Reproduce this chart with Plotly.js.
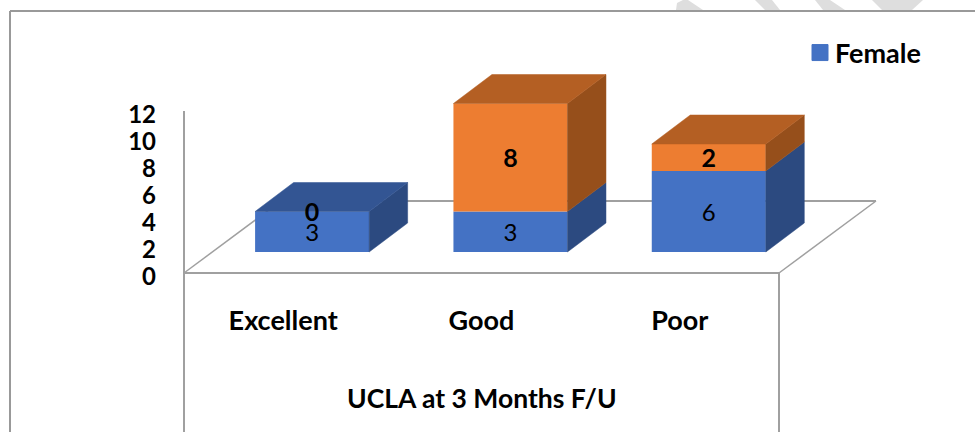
<!DOCTYPE html>
<html>
<head>
<meta charset="utf-8">
<script src="https://cdn.plot.ly/plotly-3.0.1.min.js"></script>
<style>html,body{margin:0;padding:0;background:#fff}#c{width:975px;height:432px}</style>
</head>
<body>
<div id="c"></div>
<script>
var categories = ['Excellent', 'Good', 'Poor'];
var female = [3, 3, 6];
var male = [0, 8, 2];
var yTicks = [0, 2, 4, 6, 8, 10, 12];

var W = 975, H = 432;
var L = 184, R = 905, T = 57, B = 273;   // plot box in pixels
var catW = 595 / 3, unit = (B - T) / 16;

// oblique projection, in data units
var barOff = 0.146, barW = 0.575, floorLift = 21 / unit;
var depthX = 38.5 / catW, depthY = 29 / unit, labelDrop = 3 / unit;

var xs = categories.map(function (_, i) { return i + barOff; });
var femaleBase = female.map(function () { return floorLift; });
var maleBase = female.map(function (v) { return floorLift + v; });

function sides(base, vals) {
  var x = [], y = [];
  vals.forEach(function (v, i) {
    if (!v) return;
    var r = xs[i] + barW / 2, b = base[i], t = b + v;
    x.push(r, r + depthX, r + depthX, r, r, null);
    y.push(b, b + depthY, t + depthY, t, b, null);
  });
  return { x: x, y: y };
}
function tops(base, vals, pick) {
  var x = [], y = [];
  vals.forEach(function (v, i) {
    if (!pick(i)) return;
    var l = xs[i] - barW / 2, r = xs[i] + barW / 2, t = base[i] + v;
    x.push(l, r, r + depthX, l + depthX, l, null);
    y.push(t, t, t + depthY, t + depthY, t, null);
  });
  return { x: x, y: y };
}
function face(p, color) {
  return { type: 'scatter', mode: 'lines', x: p.x, y: p.y, fill: 'toself', fillcolor: color,
    line: { color: color, width: 0.5 }, hoverinfo: 'skip', showlegend: false };
}
function bar(name, vals, base, color) {
  return { type: 'bar', name: name, x: xs, y: vals, base: base, width: barW,
    marker: { color: color }, showlegend: false };
}
function labels(vals, base, weight, size) {
  return { type: 'scatter', mode: 'text', x: xs,
    y: vals.map(function (v, i) { return base[i] + v / 2 - labelDrop; }),
    text: vals.map(String), textposition: 'middle center',
    textfont: { family: 'Lato, sans-serif', size: size, color: '#000', weight: weight },
    hoverinfo: 'skip', showlegend: false };
}

var traces = [
  bar('Female', female, femaleBase, '#4472C4'),
  bar('Male', male, maleBase, '#ED7D31'),
  face(sides(femaleBase, female), '#2C4A80'),
  face(sides(maleBase, male), '#964F1B'),
  face(tops(femaleBase, female, function (i) { return !male[i]; }), '#335593'),
  face(tops(maleBase, male, function (i) { return male[i] > 0; }), '#B45F23'),
  labels(female, femaleBase, 400, 24),
  labels(male, maleBase, 700, 25),
  { type: 'scatter', mode: 'markers', name: 'Female', x: [null], y: [null],
    marker: { symbol: 'square', size: 16, color: '#4472C4', line: { color: '#4472C4', width: 1 } }, hoverinfo: 'skip' }
];

function px(x) { return (x - L) / (R - L); }
function py(y) { return (B - y) / (B - T); }
function seg(x0, y0, x1, y1, color, width) {
  return { type: 'line', xref: 'paper', yref: 'paper', layer: 'below',
    x0: px(x0), y0: py(y0), x1: px(x1), y1: py(y1), line: { color: color, width: width } };
}
function mark(points) {
  return { type: 'path', xref: 'paper', yref: 'paper', layer: 'below', line: { width: 0 }, fillcolor: '#DEDEDE',
    path: points.map(function (p, i) { return (i ? 'L' : 'M') + px(p[0]) + ',' + py(p[1]); }).join('') + 'Z' };
}
var grey = '#A0A0A0';
var shapes = [
  mark([[676, 10], [677, 3], [683, 0], [688, 0], [703, 10]]),
  mark([[755, 0], [772, 0], [780, 10], [765, 10]]),
  mark([[815, 0], [830, 0], [845, 10], [823, 10]]),
  mark([[872, 0], [923, 0], [912, 10], [882, 10]]),
  seg(10, 11, 975, 11, '#999999', 2),
  seg(10, 11, 10, 432, '#999999', 2),
  seg(184, 111, 184, 432, grey, 2),
  seg(779, 273, 779, 432, grey, 2),
  seg(184, 273, 779, 273, grey, 2),
  seg(184, 273, 281, 201, grey, 1.5),
  seg(779, 273, 876, 201, grey, 1.5),
  seg(281, 201, 876, 201, grey, 2)
];

var font = { family: 'Lato, sans-serif', size: 27, color: '#000', weight: 700 };
var titleFont = { family: 'Lato, sans-serif', size: 26.5, color: '#000', weight: 700 };
var numFont = { family: 'Lato, sans-serif', size: 24, color: '#000', weight: 700 };
var layout = {
  width: W, height: H,
  margin: { l: L, r: W - R, t: T, b: H - B, pad: 0 },
  paper_bgcolor: '#fff', plot_bgcolor: 'rgba(0,0,0,0)',
  barmode: 'overlay',
  font: font,
  xaxis: { range: [-0.5, -0.5 + (R - L) / catW], tickmode: 'array', tickvals: [0, 1, 2], ticktext: categories,
    showgrid: false, zeroline: false, showline: false, ticks: '', ticklabelstandoff: 29, tickfont: font },
  yaxis: { range: [0, 16], tickmode: 'array', tickvals: yTicks, ticktext: yTicks.map(String),
    showgrid: false, zeroline: false, showline: false, ticks: '', ticklabelstandoff: 27, ticklabelshift: 4, tickfont: numFont },
  showlegend: true,
  legend: { x: px(795), xanchor: 'left', y: py(53), yanchor: 'middle', bgcolor: 'rgba(0,0,0,0)',
    font: font, itemclick: false, itemdoubleclick: false },
  annotations: [{ xref: 'x', x: 1, yref: 'paper', y: py(398), xanchor: 'center', yanchor: 'middle',
    showarrow: false, text: 'UCLA at 3 Months F/U', font: titleFont }],
  shapes: shapes
};
Plotly.newPlot('c', traces, layout, { displayModeBar: false, staticPlot: true }).then(function () {
  var s = document.querySelector('#c .legend .legendsymbols');
  if (s) s.setAttribute('transform', 'translate(5,0)');
});
</script>
</body>
</html>
